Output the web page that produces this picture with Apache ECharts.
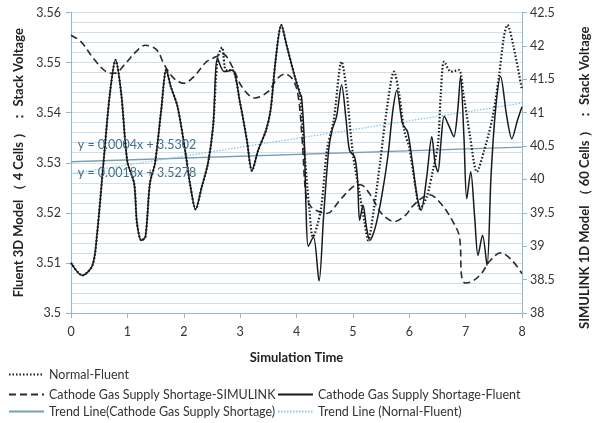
<!DOCTYPE html>
<html>
<head>
<meta charset="utf-8">
<script src="https://cdn.jsdelivr.net/npm/echarts@6/dist/echarts.min.js"></script>
<style>
  html, body { margin: 0; padding: 0; background: #fff; }
  #chart { width: 599px; height: 423px; }
</style>
</head>
<body>
<div id="chart"></div>
<script>
// simulation time, left axis (Fluent, 4 cells)
const xTicks = [0, 1, 2, 3, 4, 5, 6, 7, 8]

// [time, voltage]
const normalFluent = [
  [0, 3.510], [0.2, 3.5075], [0.38, 3.5095], [0.46, 3.5155], [0.58, 3.5305], [0.69, 3.5438],
  [0.79, 3.5505], [0.89, 3.5439], [1.0, 3.5302], [1.12, 3.5259], [1.17, 3.518], [1.25, 3.5145],
  [1.32, 3.5152], [1.40, 3.5259], [1.49, 3.5299], [1.60, 3.5405], [1.69, 3.5486], [1.77, 3.5452],
  [1.89, 3.5412], [2.03, 3.532], [2.12, 3.5252], [2.21, 3.5207], [2.32, 3.5252], [2.43, 3.5299],
  [2.52, 3.5372], [2.60, 3.5508], [2.68, 3.553], [2.75, 3.5485], [2.86, 3.5485], [3.0, 3.5419],
  [3.12, 3.5345], [3.21, 3.5284], [3.32, 3.5325], [3.46, 3.5365], [3.54, 3.5405], [3.63, 3.5505],
  [3.73, 3.5575], [3.83, 3.5532], [3.97, 3.5472], [4.06, 3.5438], [4.12, 3.535], [4.23, 3.5205],
  [4.29, 3.5152], [4.43, 3.5205], [4.54, 3.5325], [4.66, 3.5385], [4.80, 3.5502], [4.88, 3.5452],
  [5.0, 3.5318], [5.11, 3.5245], [5.21, 3.5179], [5.27, 3.5145], [5.37, 3.5205], [5.48, 3.5298],
  [5.60, 3.5405], [5.73, 3.5482], [5.82, 3.5438], [5.91, 3.5365], [6.0, 3.533], [6.11, 3.5252],
  [6.19, 3.5208], [6.31, 3.5232], [6.42, 3.5285], [6.51, 3.5338], [6.56, 3.5438], [6.62, 3.5502],
  [6.74, 3.5482], [6.88, 3.5485], [6.96, 3.5438], [7.08, 3.5352], [7.20, 3.5282], [7.33, 3.5325],
  [7.48, 3.5392], [7.59, 3.5472], [7.68, 3.5552], [7.74, 3.5575], [7.85, 3.5532], [8.0, 3.5445]
]

const shortageFluent = [
  [0, 3.510], [0.2, 3.5075], [0.38, 3.5095], [0.46, 3.5155], [0.58, 3.5305], [0.69, 3.5438],
  [0.79, 3.5505], [0.89, 3.5439], [1.0, 3.5302], [1.12, 3.5259], [1.17, 3.518], [1.25, 3.5145],
  [1.32, 3.5152], [1.40, 3.5259], [1.49, 3.5299], [1.60, 3.5405], [1.69, 3.5486], [1.77, 3.5452],
  [1.89, 3.5412], [2.03, 3.532], [2.12, 3.5252], [2.21, 3.5207], [2.32, 3.5252], [2.43, 3.5299],
  [2.52, 3.5372], [2.60, 3.5508], [2.72, 3.5482], [2.86, 3.5485], [3.0, 3.5419], [3.12, 3.5345],
  [3.21, 3.5284], [3.32, 3.5325], [3.46, 3.5365], [3.54, 3.5405], [3.63, 3.5505], [3.73, 3.5575],
  [3.83, 3.5532], [3.97, 3.5472], [4.06, 3.5438], [4.09, 3.5432], [4.14, 3.5339], [4.17, 3.5205],
  [4.21, 3.5133], [4.30, 3.5152], [4.40, 3.5064], [4.48, 3.5192], [4.57, 3.5325], [4.63, 3.5365],
  [4.71, 3.5392], [4.80, 3.5455], [4.88, 3.5385], [4.94, 3.5325], [5.03, 3.5312], [5.08, 3.5272],
  [5.12, 3.5185], [5.18, 3.5215], [5.24, 3.5172], [5.30, 3.5145], [5.40, 3.5172], [5.51, 3.5232],
  [5.62, 3.5312], [5.71, 3.5405], [5.78, 3.5445], [5.88, 3.5378], [5.97, 3.5362], [6.05, 3.5305],
  [6.14, 3.5232], [6.21, 3.5205], [6.31, 3.5272], [6.40, 3.5352], [6.46, 3.5298], [6.51, 3.5282],
  [6.56, 3.5338], [6.62, 3.5393], [6.71, 3.5372], [6.79, 3.5352], [6.86, 3.5405], [6.91, 3.5472],
  [6.97, 3.5352], [7.02, 3.5228], [7.09, 3.5282], [7.16, 3.5192], [7.22, 3.5115], [7.30, 3.5155],
  [7.38, 3.5095], [7.45, 3.5272], [7.53, 3.5405], [7.62, 3.5472], [7.73, 3.5392], [7.82, 3.5348],
  [7.92, 3.5385], [8.0, 3.5412]
]

// right axis (SIMULINK, 60 cells)
const shortageSimulink = [
  [0, 42.16], [0.18, 42.06], [0.40, 41.81], [0.63, 41.61], [0.77, 41.59], [0.97, 41.74],
  [1.15, 41.91], [1.32, 42.01], [1.52, 41.94], [1.66, 41.71], [1.83, 41.51], [2.0, 41.44],
  [2.18, 41.54], [2.40, 41.76], [2.58, 41.84], [2.69, 41.88], [2.86, 41.69], [3.03, 41.39],
  [3.26, 41.22], [3.49, 41.31], [3.66, 41.51], [3.80, 41.58], [3.94, 41.49], [4.03, 41.25],
  [4.10, 40.6], [4.17, 39.75], [4.25, 39.6], [4.34, 39.54], [4.54, 39.49], [4.77, 39.69],
  [5.0, 39.89], [5.13, 39.92], [5.31, 39.77], [5.51, 39.49], [5.74, 39.37], [5.94, 39.47],
  [6.05, 39.59], [6.22, 39.72], [6.36, 39.77], [6.56, 39.64], [6.76, 39.39], [6.89, 39.14],
  [6.93, 38.54], [6.99, 38.45], [7.11, 38.47], [7.28, 38.59], [7.42, 38.77], [7.62, 38.90],
  [7.82, 38.79], [8.0, 38.59]
]

// linear trend lines, drawn end to end
const trendShortage = [[0, 3.5302], [8, 3.5331]]
const trendNormal = [[0, 3.5278], [8, 3.5419]]
const trendLabels = [
  { text: 'y = 0.0004x + 3.5302', t: 0.12, v: 3.5335 },
  { text: 'y = 0.0018x + 3.5278', t: 0.12, v: 3.5279 }
]

const names = {
  normal: 'Normal-Fluent',
  simulink: 'Cathode Gas Supply Shortage-SIMULINK',
  fluent: 'Cathode Gas Supply Shortage-Fluent',
  trendShort: 'Trend Line(Cathode Gas Supply Shortage)',
  trendNormal: 'Trend Line (Nornal-Fluent)'
}

const FONT = 'Lato, "Open Sans", sans-serif'
const AXIS_BLUE = '#8fb8d6'
const GRID_BLUE = '#cde0ee'

const chart = echarts.init(document.getElementById('chart'))

// legend rows are laid out like the Excel legend under the plot
const legendBase = {
  itemWidth: 35,
  itemHeight: 14,
  padding: 0,
  itemStyle: { opacity: 0 },
  textStyle: { fontFamily: FONT, fontSize: 12.5, color: '#333' }
}

const nameStyle = { fontFamily: FONT, fontSize: 13, fontWeight: 'bold', color: '#222' }

const option = {
  animation: false,
  textStyle: { fontFamily: FONT },
  grid: { left: 71, right: 60, top: 12.5, bottom: 110 },
  legend: [
    { ...legendBase, left: 8, top: 368, data: [names.normal] },
    { ...legendBase, left: 8, top: 388, orient: 'vertical', itemGap: 4, data: [names.simulink, names.trendShort] },
    { ...legendBase, left: 277, top: 388, orient: 'vertical', itemGap: 4, data: [names.fluent, names.trendNormal] }
  ],
  xAxis: {
    type: 'value',
    min: xTicks[0],
    max: xTicks[xTicks.length - 1],
    interval: 1,
    name: 'Simulation Time',
    nameLocation: 'middle',
    nameGap: 38,
    nameTextStyle: nameStyle,
    axisLine: { lineStyle: { color: AXIS_BLUE } },
    axisTick: { show: true, length: 5, lineStyle: { color: AXIS_BLUE } },
    axisLabel: { fontSize: 12.5, color: '#333', margin: 12 },
    splitLine: { show: false }
  },
  yAxis: [
    {
      type: 'value',
      min: 3.5,
      max: 3.56,
      interval: 0.01,
      name: 'Fluent 3D Model （ 4 Cells ） ： Stack Voltage',
      nameLocation: 'middle',
      nameRotate: 90,
      nameGap: 38,
      nameTextStyle: nameStyle,
      axisLine: { show: true, lineStyle: { color: AXIS_BLUE } },
      axisTick: { show: true, length: 5, lineStyle: { color: AXIS_BLUE } },
      axisLabel: { fontSize: 12.5, color: '#333', margin: 10 },
      splitLine: { show: true, lineStyle: { color: GRID_BLUE, width: 1 } },
      minorTick: { show: false, splitNumber: 5 },
      minorSplitLine: { show: true, lineStyle: { color: GRID_BLUE, width: 1 } }
    },
    {
      type: 'value',
      min: 38,
      max: 42.5,
      interval: 0.5,
      position: 'right',
      name: 'SIMULINK 1D Model （ 60 Cells ） ： Stack Voltage',
      nameLocation: 'middle',
      nameRotate: 90,
      nameGap: 56,
      nameTextStyle: { ...nameStyle, padding: [0, 30, 0, 0] },
      axisLine: { show: true, lineStyle: { color: AXIS_BLUE } },
      axisTick: { show: true, length: 5, lineStyle: { color: AXIS_BLUE } },
      axisLabel: { fontSize: 12.5, color: '#333', margin: 8 },
      splitLine: { show: false }
    }
  ],
  series: [
    {
      name: names.trendShort,
      type: 'line',
      yAxisIndex: 0,
      data: trendShortage,
      symbol: 'none',
      z: 1,
      lineStyle: { color: '#7a9fb2', width: 1.3 },
      itemStyle: { color: '#7a9fb2' },
      markPoint: {
        symbol: 'circle',
        symbolSize: 0,
        label: {
          show: true,
          position: 'right',
          distance: 0,
          color: '#3f7189',
          fontSize: 12.5,
          fontFamily: FONT,
          formatter: (p) => p.name
        },
        data: trendLabels.map((d) => ({ name: d.text, coord: [d.t, d.v] }))
      }
    },
    {
      name: names.trendNormal,
      type: 'line',
      yAxisIndex: 0,
      data: trendNormal,
      symbol: 'none',
      z: 1,
      lineStyle: { color: '#8ec6e2', width: 1.3, type: [1.5, 1.5] },
      itemStyle: { color: '#8ec6e2' }
    },
    {
      name: names.simulink,
      type: 'line',
      yAxisIndex: 1,
      data: shortageSimulink,
      symbol: 'none',
      smooth: 0.35,
      z: 2,
      lineStyle: { color: '#2b2b2b', width: 1.6, type: [7, 4] },
      itemStyle: { color: '#2b2b2b' }
    },
    {
      name: names.normal,
      type: 'line',
      yAxisIndex: 0,
      data: normalFluent,
      symbol: 'none',
      smooth: 0.3,
      z: 3,
      lineStyle: { color: '#1a1a1a', width: 2.2, type: [1.5, 2] },
      itemStyle: { color: '#1a1a1a' }
    },
    {
      name: names.fluent,
      type: 'line',
      yAxisIndex: 0,
      data: shortageFluent,
      symbol: 'none',
      smooth: 0.3,
      z: 4,
      lineStyle: { color: '#1a1a1a', width: 1.5 },
      itemStyle: { color: '#1a1a1a' }
    }
  ]
}

chart.setOption(option)
</script>
</body>
</html>
